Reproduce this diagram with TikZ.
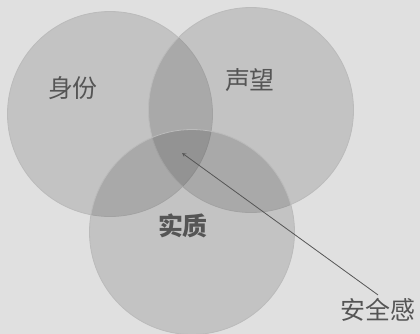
\documentclass[tikz,border=0pt]{standalone}
\usepackage{fontspec}
\setmainfont{Noto Sans CJK SC}
\usetikzlibrary{positioning}
\definecolor{paper}{HTML}{E0E0E0}
\definecolor{ink}{HTML}{555555}
\definecolor{rim}{HTML}{BBBBBB}

\begin{document}
\begin{tikzpicture}[x=1bp,y=-1bp]
    \tikzstyle{every node}=[font=\fontsize{25}{25}\selectfont,text=ink]
    \tikzstyle{ring}=[draw=rim,line width=0.8pt,fill=black,fill opacity=0.13,circle,minimum size=205bp,inner sep=0pt]
    % background
    \fill[paper] (0,0) rectangle (420,334);
    \useasboundingbox (0,0) rectangle (420,334);

    % the three circles
    \node[ring] (shenfen) at (110,114) {};
    \node[ring] (shengwang) at (251,110) {};
    \node[ring] (shizhi) at (192,232) {};

    % labels
    \node (shenfentext) at (73,88) {身份};
    \node (shengwangtext) at (250,80) {声望};
    \node[font=\fontsize{25}{25}\selectfont\bfseries] (shizhitext) at (183,226) {实质};

    % common part
    \coordinate (core) at (182,153);
    \node (anquan) at (378,310) {安全感};
    \draw[->,>=stealth,ink,line width=0.8pt] (anquan.north) -- (core);

\end{tikzpicture}
\end{document}
